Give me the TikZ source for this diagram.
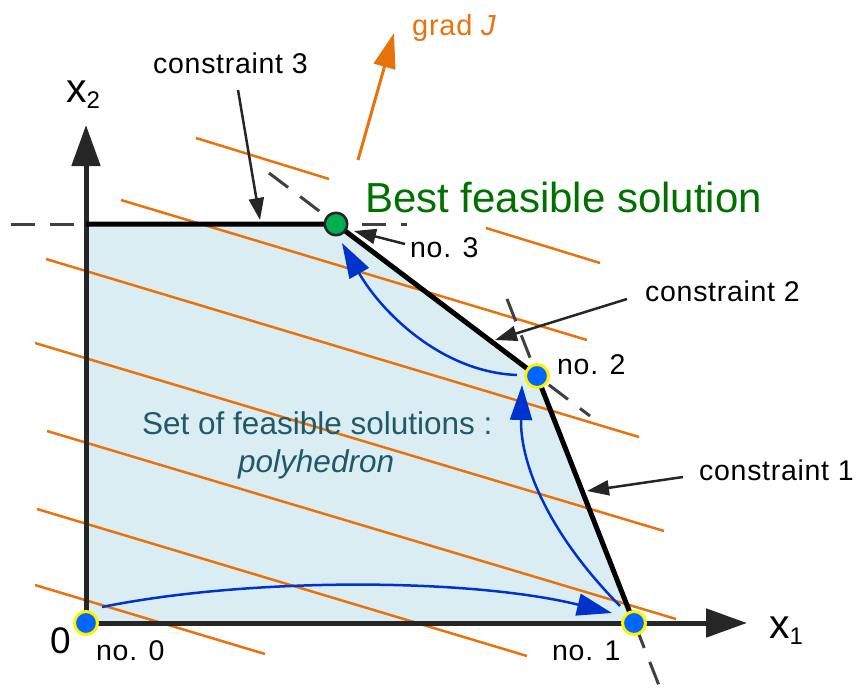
\documentclass[tikz,border=0pt]{standalone}
\usepackage{fontspec}
\setmainfont{Liberation Sans}
\newfontfamily\lblfont[LetterSpace=2.5]{Liberation Sans}
\usetikzlibrary{arrows.meta}
\definecolor{fillblue}{RGB}{218,237,243}
\definecolor{orangeL}{RGB}{232,114,12}
\definecolor{axisgray}{RGB}{38,38,38}
\definecolor{dashgray}{RGB}{64,64,64}
\definecolor{greentext}{RGB}{0,112,0}
\definecolor{greendot}{RGB}{0,176,80}
\definecolor{bluedot}{RGB}{0,102,255}
\definecolor{bluearrow}{RGB}{0,51,204}
\definecolor{tealtext}{RGB}{33,89,104}
\begin{document}
\begin{tikzpicture}[x=1pt,y=-1pt,
  isoline/.style={orangeL, line width=2.5pt},
  extline/.style={dashgray, line width=3pt, dash pattern=on 24pt off 15pt},
  axisline/.style={axisgray, line width=5pt, -{Triangle[length=41pt,width=28pt]}},
  edgeline/.style={black, line width=5pt, line join=round},
  pathstep/.style={bluearrow, line width=2.5pt, -{Triangle[length=35pt,width=22pt]}},
  annot/.style={axisgray, line width=2.5pt, -{Triangle[length=22pt,width=15pt]}},
  vertexpt/.style={circle, fill=bluedot, draw=yellow, line width=3pt, minimum size=23pt, inner sep=0pt},
  bestpt/.style={circle, fill=greendot, draw=axisgray, line width=2.5pt, minimum size=22.5pt, inner sep=0pt},
  lbl/.style={anchor=base west, inner sep=0pt, font=\lblfont\fontsize{28.5}{30}\selectfont},
]
\useasboundingbox (0,0) rectangle (863,688);

% vertices (positions)
\coordinate (n0c) at (86,623);
\coordinate (n1c) at (634,623);
\coordinate (n2c) at (537,376);
\coordinate (n3c) at (336,224);
\coordinate (c3) at (86,224);

% feasible set
\fill[fillblue] (n0c) -- (c3) -- (n3c) -- (n2c) -- (n1c) -- cycle;

% iso-lines of J
\draw[isoline] (196,138) -- (329,179);
\draw[isoline] (486,228) -- (600,263);
\draw[isoline] (121,200) -- (587,340);
\draw[isoline] (46,259) -- (639,437);
\draw[isoline] (35,343) -- (664,531);
\draw[isoline] (47,431) -- (676,619);
\draw[isoline] (37,509) -- (527,656);
\draw[isoline] (35,585) -- (265,654);

% constraint extensions
\draw[extline] (11,224) -- (407,224);
\draw[extline] (269,173) -- (590,416);
\draw[extline] (507,299) -- (660,688);

% axes
\coordinate (xend) at (747,623);
\coordinate (yend) at (86,125);
\draw[axisline] (n0c) -- (xend);
\draw[axisline] (n0c) -- (yend);

% polyhedron edges
\draw[edgeline] (c3) -- (n3c) -- (n2c) -- (n1c);

% gradient
\coordinate (gs) at (358,160);
\coordinate (ge) at (394,33);
\draw[orangeL, line width=3pt, -{Triangle[length=35pt,width=22pt]}] (gs) -- (ge);

% simplex steps
\draw[pathstep] (102,607) .. controls (250,577) and (470,578) .. (612,613);
\draw[pathstep] (620,606) .. controls (545,530) and (520,460) .. (522,385);
\draw[pathstep] (517,375) .. controls (440,372) and (380,310) .. (342,243);

% labels
\node[lbl] (c3lbl) at (153,73) {constraint 3};
\node[lbl] (c2lbl) at (645,301) {constraint 2};
\node[lbl] (c1lbl) at (699,480) {constraint 1};
\node[lbl] (no3) at (410,257) {no. 3};
\node[lbl] (no2) at (557,374) {no. 2};
\node[lbl] (no1) at (552,660) {no. 1};
\node[lbl] (no0) at (96,660) {no. 0};
\node[anchor=base west, inner sep=0pt, text=orangeL, font=\lblfont\fontsize{29}{30}\selectfont] (gradlbl) at (412,35) {grad \textit{J}};
\node[anchor=base west, inner sep=0pt, text=greentext, font=\fontsize{42}{46}\selectfont] (best) at (365,212) {Best feasible solution};
\node[anchor=base west, inner sep=0pt, text=tealtext, font=\fontsize{31.5}{34}\selectfont] (setlbl) at (142,434) {Set of feasible solutions :};
\node[anchor=base west, inner sep=0pt, text=tealtext, font=\fontsize{31.5}{34}\selectfont\itshape] (polylbl) at (238,472) {polyhedron};
\node[anchor=base west, inner sep=0pt, font=\fontsize{37}{38}\selectfont] (zero) at (50,653) {0};
\node[anchor=base west, inner sep=0pt, font=\fontsize{41}{42}\selectfont] (x1lbl) at (769,638) {x\raisebox{-6pt}{\fontsize{24}{24}\selectfont 1}};
\node[anchor=base west, inner sep=0pt, font=\fontsize{41}{42}\selectfont] (x2lbl) at (66,102) {x\raisebox{-6pt}{\fontsize{24}{24}\selectfont 2}};

% annotation arrows
\coordinate (a3s) at (238,90);  \coordinate (a3e) at (260,220);
\coordinate (an3s) at (405,244); \coordinate (an3e) at (354,231);
\coordinate (a2s) at (627,299); \coordinate (a2e) at (495,340);
\coordinate (a1s) at (683,477); \coordinate (a1e) at (587,491);
\draw[annot] (a3s) -- (a3e);
\draw[annot] (an3s) -- (an3e);
\draw[annot] (a2s) -- (a2e);
\draw[annot] (a1s) -- (a1e);

% points
\node[vertexpt] (n0) at (n0c) {};
\node[vertexpt] (n1) at (n1c) {};
\node[vertexpt] (n2) at (n2c) {};
\node[bestpt] (n3) at (n3c) {};
\end{tikzpicture}
\end{document}
